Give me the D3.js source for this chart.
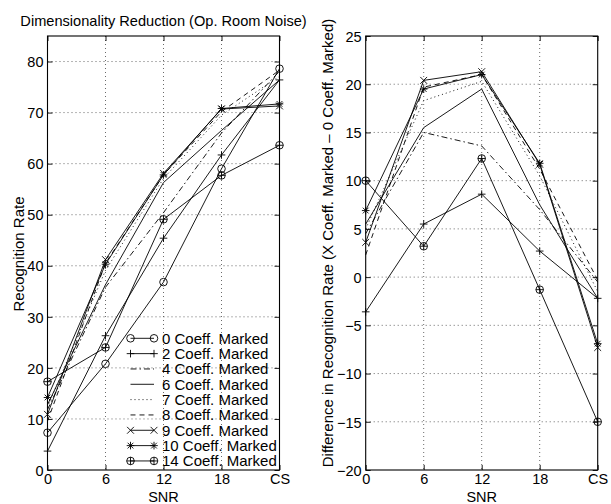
<!DOCTYPE html>
<html>
<head>
<meta charset="utf-8">
<script src="https://cdn.jsdelivr.net/npm/d3@7"></script>
<style>
  body { margin: 0; background: #fff; }
  svg { font-family: "Liberation Sans", Arial, sans-serif; }
</style>
</head>
<body>
<svg id="chart" width="611" height="504"></svg>
<script>
// x positions (SNR)
const snr = ["0", "6", "12", "18", "CS"];

// series names and styles
const seriesNames = ["0 Coeff. Marked", "2 Coeff. Marked", "4 Coeff. Marked", "6 Coeff. Marked",
  "7 Coeff. Marked", "8 Coeff. Marked", "9 Coeff. Marked", "10 Coeff. Marked", "14 Coeff. Marked"];
const markers = ["o", "+", null, null, null, null, "x", "*", "oplus"];
const dashes = [null, null, "6,3,1.5,3", null, "1,3", "5,4", null, null, null];

// left: recognition rate
const rate0 = [7.3, 20.8, 36.8, 59.0, 78.6];
const rate2 = [3.7, 26.3, 45.4, 61.7, 76.4];
const rate4 = [11.8, 35.8, 50.4, 66.0, 78.1];
const rate6 = [12.8, 36.3, 56.3, 66.5, 76.4];
const rate7 = [12.3, 39.1, 57.1, 69.5, 77.1];
const rate8 = [9.6, 40.5, 57.8, 70.2, 78.3];
const rate9 = [10.9, 41.2, 58.1, 70.7, 71.3];
const rate10 = [14.2, 40.3, 57.8, 70.8, 71.7];
const rate14 = [17.3, 24.0, 49.1, 57.7, 63.6];

// right: difference from 0 coeff. marked
const diff2 = [-3.6, 5.5, 8.6, 2.7, -2.2];
const diff4 = [4.5, 15.0, 13.6, 7.0, -0.5];
const diff6 = [5.5, 15.5, 19.5, 7.5, -2.2];
const diff7 = [5.0, 18.3, 20.3, 10.5, -1.5];
const diff8 = [2.3, 19.7, 21.0, 11.2, -0.3];
const diff9 = [3.6, 20.4, 21.3, 11.7, -7.3];
const diff10 = [6.9, 19.5, 21.0, 11.8, -6.9];
const diff14 = [10.0, 3.2, 12.3, -1.3, -15.0];

const leftTicks = [0, 10, 20, 30, 40, 50, 60, 70, 80];
const rightTicks = [-20, -15, -10, -5, 0, 5, 10, 15, 20, 25];

const rateSeries = [rate0, rate2, rate4, rate6, rate7, rate8, rate9, rate10, rate14];
// the right panel has no "0 Coeff." curve
const diffSeries = [null, diff2, diff4, diff6, diff7, diff8, diff9, diff10, diff14];

const svg = d3.select("#chart");

function drawMarker(g, type, x, y) {
  const s = 3.8;
  if (type === "o" || type === "oplus") {
    g.append("circle").attr("cx", x).attr("cy", y).attr("r", s)
      .attr("fill", "none").attr("stroke", "#000").attr("stroke-width", 0.9);
  }
  if (type === "+" || type === "*" || type === "oplus") {
    g.append("path").attr("d", `M${x - s},${y}H${x + s}M${x},${y - s}V${y + s}`)
      .attr("stroke", "#000").attr("stroke-width", 0.9);
  }
  if (type === "x" || type === "*") {
    const d = type === "*" ? s * 0.75 : s * 0.9;
    g.append("path").attr("d", `M${x - d},${y - d}L${x + d},${y + d}M${x - d},${y + d}L${x + d},${y - d}`)
      .attr("stroke", "#000").attr("stroke-width", 0.9);
  }
}

function panel(x0, x1, yDomain, ticks, series) {
  const top = 36, bottom = 470;
  const x = d3.scalePoint().domain(snr).range([x0, x1]);
  const y = d3.scaleLinear().domain(yDomain).range([bottom, top]);
  const g = svg.append("g");

  // grid
  g.selectAll(".gx").data(snr.slice(1, -1)).enter().append("line")
    .attr("x1", d => x(d)).attr("x2", d => x(d)).attr("y1", top).attr("y2", bottom)
    .attr("stroke", "#444").attr("stroke-width", 0.8).attr("stroke-dasharray", "1,3");
  g.selectAll(".gy").data(ticks.filter(t => y(t) > top + 1 && y(t) < bottom - 1)).enter().append("line")
    .attr("x1", x0).attr("x2", x1).attr("y1", d => y(d)).attr("y2", d => y(d))
    .attr("stroke", "#444").attr("stroke-width", 0.8).attr("stroke-dasharray", "1,3");

  // axes with inward ticks
  const ax = g.append("g").attr("transform", `translate(0,${bottom})`)
    .call(d3.axisBottom(x).tickSize(-5).tickPadding(4));
  const axTop = g.append("g").attr("transform", `translate(0,${top})`)
    .call(d3.axisTop(x).tickSize(-5).tickFormat(""));
  const ay = g.append("g").attr("transform", `translate(${x0},0)`)
    .call(d3.axisLeft(y).tickValues(ticks).tickSize(-5).tickPadding(4)
      .tickFormat(d => d < 0 ? "\u2212" + Math.abs(d) : d));
  const ayR = g.append("g").attr("transform", `translate(${x1},0)`)
    .call(d3.axisRight(y).tickValues(ticks).tickSize(-5).tickFormat(""));
  [ax, axTop, ay, ayR].forEach(a => {
    a.select(".domain").remove();
    a.selectAll("line").attr("stroke", "#000").attr("stroke-width", 0.9);
    a.selectAll("text").attr("fill", "#000").style("font-size", "14.5px").style("font-family", null);
  });
  ay.selectAll("text").attr("dy", "0.36em");

  // lines
  const line = d3.line().x((d, i) => x(snr[i])).y(d => y(d));
  series.forEach((vals, k) => {
    if (!vals) return;
    g.append("path").attr("d", line(vals)).attr("fill", "none")
      .attr("stroke", "#000").attr("stroke-width", 0.9)
      .attr("stroke-dasharray", dashes[k]);
    if (markers[k]) vals.forEach((v, i) => drawMarker(g, markers[k], x(snr[i]), y(v)));
  });

  // frame
  g.append("rect").attr("x", x0).attr("y", top).attr("width", x1 - x0).attr("height", bottom - top)
    .attr("fill", "none").attr("stroke", "#000").attr("stroke-width", 1.1);

  g.append("text").attr("x", (x0 + x1) / 2).attr("y", 501.5).attr("text-anchor", "middle")
    .style("font-size", "14.5px").text("SNR");
  return { x, y, g };
}

panel(47.5, 279.5, [0, 85], leftTicks, rateSeries);
panel(365.7, 597.7, [-20, 25], rightTicks, diffSeries);

// titles and labels
svg.append("text").attr("x", 163.5).attr("y", 26).attr("text-anchor", "middle")
  .style("font-size", "14.6px").text("Dimensionality Reduction (Op. Room Noise)");
svg.append("text").attr("transform", "translate(24,254) rotate(-90)").attr("text-anchor", "middle")
  .style("font-size", "15px").text("Recognition Rate");
svg.append("text").attr("transform", "translate(332.5,243) rotate(-90)").attr("text-anchor", "middle")
  .style("font-size", "15px").text("Difference in Recognition Rate (X Coeff. Marked \u2013 0 Coeff. Marked)");

// legend (no box, transparent)
const leg = svg.append("g");
seriesNames.forEach((name, k) => {
  const cy = 338.3 + k * 15.33;
  leg.append("line").attr("x1", 130.5).attr("x2", 154).attr("y1", cy).attr("y2", cy)
    .attr("stroke", "#000").attr("stroke-width", 0.9).attr("stroke-dasharray", dashes[k]);
  if (markers[k]) {
    drawMarker(leg, markers[k], 130.5, cy);
    drawMarker(leg, markers[k], 154, cy);
  }
  leg.append("text").attr("x", 162).attr("y", cy).attr("dy", "0.36em")
    .style("font-size", "15px").text(name);
});
</script>
</body>
</html>
